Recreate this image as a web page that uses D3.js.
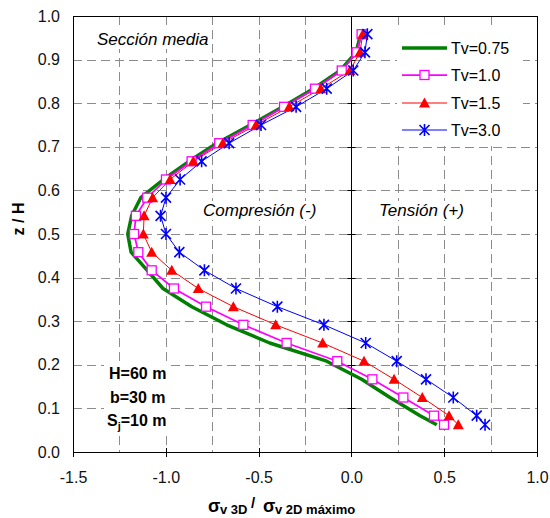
<!DOCTYPE html>
<html>
<head>
<meta charset="utf-8">
<script src="https://cdn.jsdelivr.net/npm/d3@7"></script>
<style>
  html, body { margin: 0; padding: 0; background: #fff; }
  text { font-family: Arial, "Liberation Sans", sans-serif; }
</style>
</head>
<body>
<svg id="chart" width="550" height="518"></svg>
<script>
// ---------- data ----------
const zLevels = [0.0625, 0.0833, 0.125, 0.1667, 0.2083, 0.25, 0.2917, 0.3333, 0.375, 0.4167, 0.4583, 0.5,
                 0.5417, 0.5833, 0.625, 0.6667, 0.7083, 0.75, 0.7917, 0.8333, 0.875, 0.9167, 0.9583];
const tv075 = [0.46, 0.37, 0.208, 0.055, -0.133, -0.44, -0.672, -0.86, -1.015, -1.10, -1.187, -1.205,
               -1.184, -1.135, -1.013, -0.875, -0.725, -0.545, -0.37, -0.205, -0.06, 0.025, 0.05];
const tv10  = [0.499, 0.445, 0.28, 0.113, -0.076, -0.349, -0.582, -0.783, -0.956, -1.076, -1.148, -1.171,
               -1.161, -1.10, -0.999, -0.861, -0.712, -0.532, -0.363, -0.196, -0.052, 0.028, 0.055];
const tv15  = [0.576, 0.526, 0.382, 0.23, 0.068, -0.155, -0.408, -0.636, -0.825, -0.968, -1.076, -1.121,
               -1.117, -1.071, -0.977, -0.852, -0.693, -0.514, -0.335, -0.165, -0.008, 0.046, 0.061];
const tv30  = [0.72, 0.675, 0.549, 0.402, 0.244, 0.077, -0.148, -0.399, -0.622, -0.792, -0.927, -0.999,
               -1.028, -0.999, -0.923, -0.807, -0.659, -0.487, -0.298, -0.133, 0.01, 0.073, 0.086];
const seriesNames = ["Tv=0.75", "Tv=1.0", "Tv=1.5", "Tv=3.0"];
const xTicks = [-1.5, -1.0, -0.5, 0.0, 0.5, 1.0];
const xGrid = [-1.25, -1.0, -0.75, -0.5, -0.25, 0.25, 0.5, 0.75];
const yTicks = [0, 0.1, 0.2, 0.3, 0.4, 0.5, 0.6, 0.7, 0.8, 0.9, 1.0];
const yGrid = [0.1, 0.2, 0.3, 0.4, 0.5, 0.6, 0.7, 0.8, 0.9];

// ---------- layout ----------
const svg = d3.select("#chart");
const L = 73, R = 537, T = 16, B = 452;
const x = d3.scaleLinear().domain([-1.5, 1.0]).range([L, R]);
const y = d3.scaleLinear().domain([0, 1]).range([B, T]);

svg.append("rect").attr("width", 550).attr("height", 518).attr("fill", "#fff");

// grid
const grid = svg.append("g").attr("stroke", "#8c8c8c").attr("stroke-width", 1).attr("stroke-dasharray", "9,5");
grid.selectAll(".gx").data(xGrid).join("line")
  .attr("x1", d => Math.round(x(d)) + 0.5).attr("x2", d => Math.round(x(d)) + 0.5)
  .attr("y1", T).attr("y2", B);
grid.selectAll(".gy").data(yGrid).join("line")
  .attr("y1", d => Math.round(y(d)) + 0.5).attr("y2", d => Math.round(y(d)) + 0.5)
  .attr("x1", L).attr("x2", R);

// annotation layer (white boxes behind text), placed before the axis line & series
const annBg = svg.append("g");
const ann = svg.append("g");

// plot border
svg.append("rect").attr("x", L + 0.5).attr("y", T + 0.5).attr("width", R - L).attr("height", B - T)
  .attr("fill", "none").attr("stroke", "#000").attr("stroke-width", 1);

// vertical axis line at x=0 with cross ticks
const x0 = Math.round(x(0)) + 0.5;
svg.append("line").attr("x1", x0).attr("x2", x0).attr("y1", T).attr("y2", B).attr("stroke", "#000");
svg.selectAll(".yt").data(yTicks).join("line")
  .attr("x1", x0 - 4).attr("x2", x0 + 4)
  .attr("y1", d => Math.round(y(d)) + 0.5).attr("y2", d => Math.round(y(d)) + 0.5)
  .attr("stroke", "#000");

// x axis cross ticks
svg.selectAll(".xt").data(xTicks).join("line")
  .attr("x1", d => Math.round(x(d)) + 0.5).attr("x2", d => Math.round(x(d)) + 0.5)
  .attr("y1", B - 4).attr("y2", B + 5)
  .attr("stroke", "#000");

// axes labels via d3 axes
const xAxis = svg.append("g").attr("transform", `translate(0,${B})`)
  .call(d3.axisBottom(x).tickValues(xTicks).tickSize(0).tickPadding(0).tickFormat(d => d.toFixed(1)));
xAxis.select(".domain").remove();
xAxis.selectAll("text").attr("y", 31).attr("dy", null).attr("font-size", 16).attr("fill", "#111")
  .attr("font-family", "Arial, 'Liberation Sans', sans-serif");

const yAxis = svg.append("g").attr("transform", `translate(${L},0)`)
  .call(d3.axisLeft(y).tickValues(yTicks).tickSize(0).tickPadding(13).tickFormat(d => d.toFixed(1)));
yAxis.select(".domain").remove();
yAxis.selectAll("text").attr("font-size", 16).attr("fill", "#111")
  .attr("font-family", "Arial, 'Liberation Sans', sans-serif");

// ---------- annotations ----------
function addText(g, xx, yy, txt, opts) {
  const t = g.append("text").attr("x", xx).attr("y", yy).attr("font-size", opts.size || 16);
  if (opts.italic) t.attr("font-style", "italic");
  if (opts.bold) t.attr("font-weight", "bold");
  if (txt) t.text(txt);
  return t;
}
function boxBehind(t) {
  const b = t.node().getBBox();
  annBg.append("rect").attr("x", b.x - 2).attr("y", b.y).attr("width", b.width + 4).attr("height", b.height)
    .attr("fill", "#fff");
}
boxBehind(addText(ann, 97, 45, "Sección media", {size: 17, italic: true}));
boxBehind(addText(ann, 203, 216, "Compresión (-)", {size: 17, italic: true}));
boxBehind(addText(ann, 379, 216, "Tensión (+)", {size: 17, italic: true}));

const info = [];
info.push(addText(ann, 109, 379, "H=60 m", {bold: true}));
info.push(addText(ann, 110, 403, "b=30 m", {bold: true}));
const sj = addText(ann, 107, 426, null, {bold: true});
sj.append("tspan").text("S");
sj.append("tspan").attr("font-size", 11).attr("dy", 4).text("j");
sj.append("tspan").attr("dy", -4).text("=10 m");
info.push(sj);
{
  const bs = info.map(t => t.node().getBBox());
  const x1 = d3.min(bs, b => b.x) - 3, x2 = d3.max(bs, b => b.x + b.width) + 3;
  const y1 = d3.min(bs, b => b.y) - 2, y2 = d3.max(bs, b => b.y + b.height) + 2;
  annBg.append("rect").attr("x", x1).attr("y", y1).attr("width", x2 - x1).attr("height", y2 - y1).attr("fill", "#fff");
}

// ---------- series ----------
const line = d3.line().x(d => x(d[0])).y(d => y(d[1]));
const pts = vals => vals.map((v, i) => [v, zLevels[i]]);

svg.append("path").datum(pts(tv075)).attr("d", line)
  .attr("fill", "none").attr("stroke", "#008000").attr("stroke-width", 3.5).attr("stroke-linejoin", "round");
svg.append("path").datum(pts(tv10)).attr("d", line)
  .attr("fill", "none").attr("stroke", "#ff00ff").attr("stroke-width", 1.75);
svg.append("path").datum(pts(tv15)).attr("d", line)
  .attr("fill", "none").attr("stroke", "#ff0000").attr("stroke-width", 1);
svg.append("path").datum(pts(tv30)).attr("d", line)
  .attr("fill", "none").attr("stroke", "#0000ff").attr("stroke-width", 1);

function square(g, cx, cy) {
  g.append("rect").attr("x", cx - 4.5).attr("y", cy - 4.5).attr("width", 9).attr("height", 9)
    .attr("fill", "#fff").attr("stroke", "#ff00ff").attr("stroke-width", 1.3);
}
function triangle(g, cx, cy) {
  g.append("path").attr("d", `M${cx},${cy - 5.5}L${cx + 5.5},${cy + 4.5}L${cx - 5.5},${cy + 4.5}Z`)
    .attr("fill", "#ff0000");
}
function star(g, cx, cy) {
  const r = 5;
  g.append("path").attr("d",
    `M${cx - r},${cy - r}L${cx + r},${cy + r}M${cx - r},${cy + r}L${cx + r},${cy - r}M${cx},${cy - r - 1}L${cx},${cy + r + 1}`)
    .attr("stroke", "#0000ff").attr("stroke-width", 1.6).attr("fill", "none");
}
const gSq = svg.append("g"), gTr = svg.append("g"), gSt = svg.append("g");
pts(tv10).forEach(p => square(gSq, x(p[0]), y(p[1])));
pts(tv15).forEach(p => triangle(gTr, x(p[0]), y(p[1])));
pts(tv30).forEach(p => star(gSt, x(p[0]), y(p[1])));

// ---------- legend ----------
const lg = svg.append("g");
lg.append("rect").attr("x", 397).attr("y", 27).attr("width", 126).attr("height", 119).attr("fill", "#fff");
const rows = [48, 75, 103, 130];
const lStyles = [["#008000", 3.5], ["#ff00ff", 1.75], ["#ff0000", 1], ["#0000ff", 1]];
rows.forEach((ry, i) => {
  lg.append("line").attr("x1", 402).attr("x2", 447).attr("y1", ry).attr("y2", ry)
    .attr("stroke", lStyles[i][0]).attr("stroke-width", lStyles[i][1]);
  lg.append("text").attr("x", 451).attr("y", ry + 6).attr("font-size", 16).attr("fill", "#000")
    .text(seriesNames[i]);
});
square(lg, 424.5, rows[1]);
triangle(lg, 424.5, rows[2]);
star(lg, 424.5, rows[3]);

// axis titles
svg.append("text").attr("transform", "translate(24,219) rotate(-90)").attr("text-anchor", "middle")
  .attr("font-size", 16).attr("font-weight", "bold").text("z / H");

const xt = svg.append("g").attr("font-weight", "bold").attr("fill", "#000");
xt.append("text").attr("x", 208).attr("y", 512).attr("font-size", 18).text("σ");
xt.append("text").attr("x", 220).attr("y", 514).attr("font-size", 13).text("v 3D");
xt.append("text").attr("x", 251).attr("y", 508).attr("font-size", 15).text("/");
xt.append("text").attr("x", 263).attr("y", 512).attr("font-size", 18).text("σ");
xt.append("text").attr("x", 275).attr("y", 514).attr("font-size", 13).text("v 2D máximo");
</script>
</body>
</html>
